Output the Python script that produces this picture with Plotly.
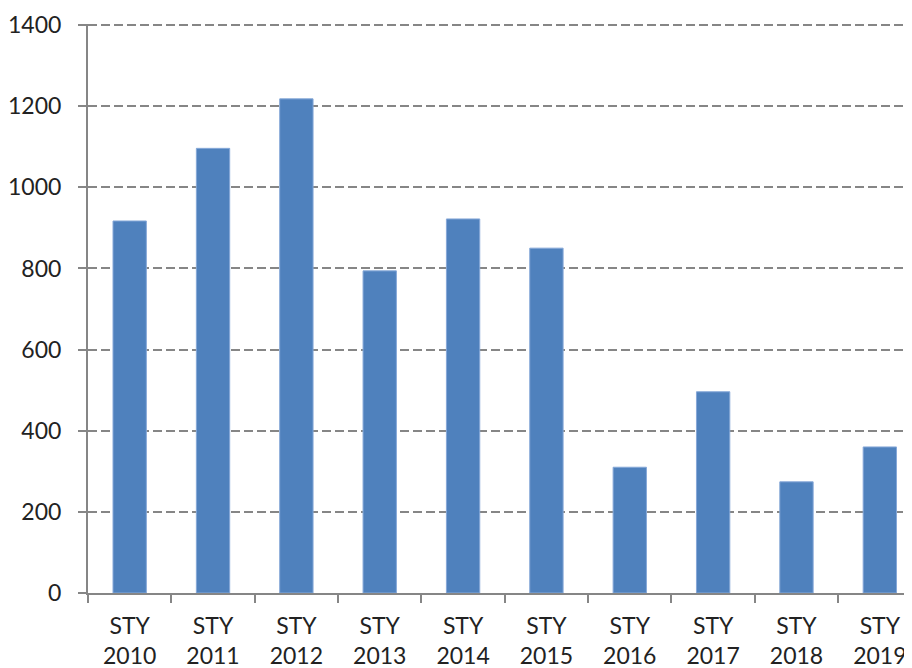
import plotly.graph_objects as go

categories = ["STY<br>2010", "STY<br>2011", "STY<br>2012", "STY<br>2013", "STY<br>2014",
              "STY<br>2015", "STY<br>2016", "STY<br>2017", "STY<br>2018", "STY<br>2019"]
values = [917, 1096, 1218, 794, 922, 850, 310, 496, 274, 360]
y_ticks = [0, 200, 400, 600, 800, 1000, 1200, 1400]

fig = go.Figure()
fig.add_trace(go.Bar(
    x=categories, y=values,
    width=0.4,
    marker=dict(color="#4F81BD", line=dict(color="#86a8d8", width=1)),
))

axis_gray = "#868686"
font = dict(family="Lato, Liberation Sans, sans-serif", size=23, color="#222222")

fig.update_layout(
    width=904, height=660,
    margin=dict(l=80, r=0, t=16, b=75, autoexpand=False),
    paper_bgcolor="white", plot_bgcolor="white",
    showlegend=False,
    font=font,
    bargap=0.6,
)
fig.update_xaxes(
    type="category",
    range=[-0.5, 9.386],
    automargin=False,
    showline=True, linecolor=axis_gray, linewidth=2,
    ticks="outside", tickson="boundaries", ticklen=8, tickcolor=axis_gray, tickwidth=2,
    showgrid=False,
    ticklabelstandoff=11,
    tickfont=font,
)
fig.update_yaxes(
    range=[0, 1402.5],
    automargin=False,
    tickvals=y_ticks,
    showline=True, linecolor=axis_gray, linewidth=2,
    ticks="outside", ticklen=8, tickcolor=axis_gray, tickwidth=2,
    showgrid=True, gridcolor=axis_gray, gridwidth=2, griddash="9px,4px",
    zeroline=False,
    ticklabelstandoff=12,
    tickfont=font,
)

fig.write_html("out.html")
